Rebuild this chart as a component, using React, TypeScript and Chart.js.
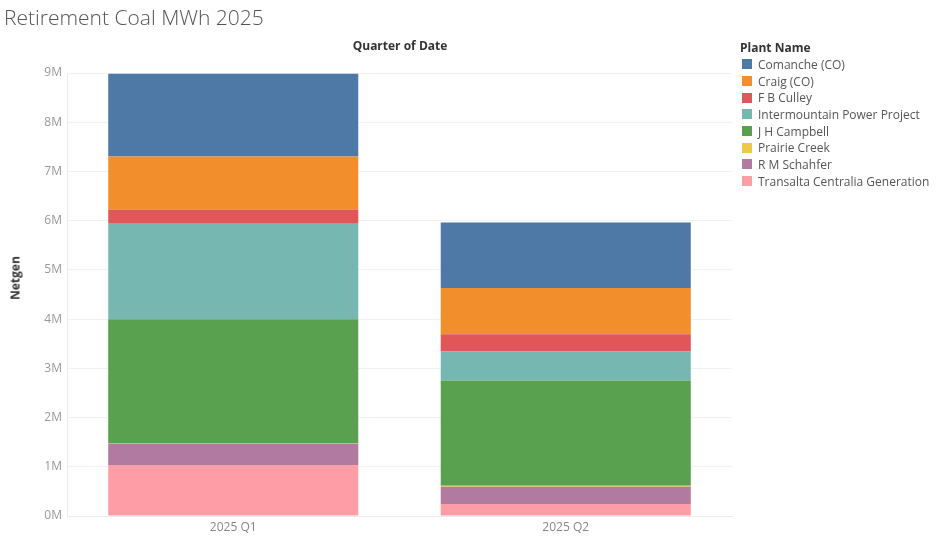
import React, { useEffect, useRef } from "react";
import { Chart, registerables } from "chart.js";

Chart.register(...registerables);

const quarters = ["2025 Q1", "2025 Q2"];
const plantNames = [
  "Comanche (CO)",
  "Craig (CO)",
  "F B Culley",
  "Intermountain Power Project",
  "J H Campbell",
  "Prairie Creek",
  "R M Schahfer",
  "Transalta Centralia Generation",
];
const plantColors = [
  "#4e79a7",
  "#f28e2b",
  "#e15759",
  "#76b7b2",
  "#59a14f",
  "#edc948",
  "#b07aa1",
  "#ff9da7",
];
const comanche = [1680000, 1330000];
const craig = [1080000, 940000];
const fbCulley = [290000, 350000];
const intermountain = [1940000, 590000];
const jhCampbell = [2510000, 2140000];
const prairieCreek = [10000, 20000];
const rmSchahfer = [440000, 350000];
const transalta = [1035000, 244000];
const seriesValues = [comanche, craig, fbCulley, intermountain, jhCampbell, prairieCreek, rmSchahfer, transalta];
const yTicks = [0, 1, 2, 3, 4, 5, 6, 7, 8, 9];

const FONT = "'Open Sans', 'DejaVu Sans', sans-serif";

export default function App() {
  const ref = useRef<HTMLCanvasElement | null>(null);
  useEffect(() => {
    if (!ref.current) return;
    // bottom of stack = last legend item
    const order = plantNames.map((_, i) => i).reverse();
    const chart = new Chart(ref.current, {
      type: "bar",
      data: {
        labels: quarters,
        datasets: order.map((i) => ({
          label: plantNames[i],
          data: seriesValues[i],
          backgroundColor: plantColors[i],
          borderWidth: 0,
          categoryPercentage: 1,
          barPercentage: 0.752,
        })),
      },
      options: {
        animation: false,
        responsive: true,
        maintainAspectRatio: false,
        layout: { padding: { top: 73, right: 204, left: 0, bottom: 0 } },
        plugins: { legend: { display: false }, tooltip: { enabled: false }, title: { display: false } },
        scales: {
          x: {
            stacked: true,
            grid: { display: false, drawTicks: false },
            border: { display: true, color: "#ececec" },
            ticks: { color: "#888", font: { family: FONT, size: 12 }, padding: 4 },
            afterFit: (s: any) => {
              s.height = 27;
            },
          },
          y: {
            stacked: true,
            min: 0,
            max: 9000000,
            afterBuildTicks: (s: any) => {
              s.ticks = yTicks.map((v) => ({ value: v * 1000000 }));
            },
            grid: { color: "#f2f2f2", drawTicks: false },
            border: { display: true, color: "#ececec" },
            ticks: {
              color: "#999",
              font: { family: FONT, size: 12 },
              padding: 5,
              callback: (v: any) => `${Math.round(Number(v) / 1000000)}M`,
            },
            afterFit: (s: any) => {
              s.width = 67;
            },
          },
        },
      },
    });
    return () => chart.destroy();
  }, []);

  return (
    <div style={{ position: "absolute", left: 0, top: 0, width: 936, height: 543, background: "#fff", fontFamily: FONT }}>
      <div style={{ position: "absolute", left: 0, top: 0, width: 936, height: 543 }}>
        <canvas ref={ref} />
      </div>
      <div style={{ position: "absolute", left: 4, top: 3, fontSize: 21, fontWeight: 300, color: "#555", whiteSpace: "nowrap" }}>
        Retirement Coal MWh 2025
      </div>
      <div style={{ position: "absolute", left: 300, width: 200, top: 37, textAlign: "center", fontSize: 12, fontWeight: 700, color: "#333" }}>
        Quarter of Date
      </div>
      <div
        style={{
          position: "absolute",
          left: 15,
          top: 278,
          transform: "translate(-50%, -50%) rotate(-90deg)",
          fontSize: 12,
          fontWeight: 700,
          color: "#333",
          whiteSpace: "nowrap",
        }}
      >
        Netgen
      </div>
      <div style={{ position: "absolute", left: 740, top: 40 }}>
        <div style={{ fontSize: 12, fontWeight: 700, color: "#333", height: 16, lineHeight: "16px" }}>Plant Name</div>
        {plantNames.map((n, i) => (
          <div key={n} style={{ display: "flex", alignItems: "center", height: 16.7, whiteSpace: "nowrap" }}>
            <span style={{ display: "inline-block", width: 10, height: 10, background: plantColors[i], marginLeft: 2, marginRight: 6 }} />
            <span style={{ fontSize: 12, color: "#555" }}>{n}</span>
          </div>
        ))}
      </div>
    </div>
  );
}
